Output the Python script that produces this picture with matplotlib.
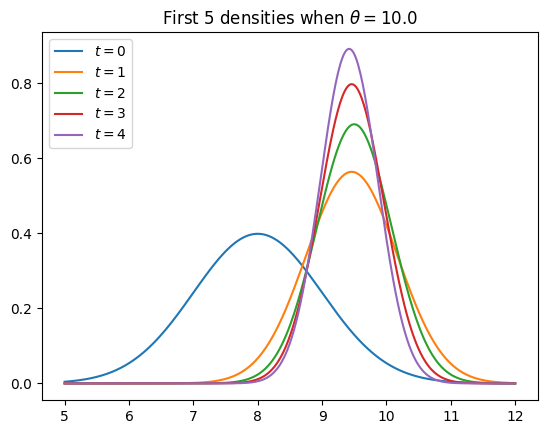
import numpy as np
import matplotlib.pyplot as plt

# posterior mean and variance at each step t
steps = [0, 1, 2, 3, 4]
means = [8.0, 9.46, 9.50, 9.46, 9.42]
variances = [1.0, 1 / 2, 1 / 3, 1 / 4, 1 / 5]
theta = 10.0

x_grid = np.linspace(5, 12, 400)


def normal_pdf(x, mu, var):
    return np.exp(-(x - mu) ** 2 / (2 * var)) / np.sqrt(2 * np.pi * var)


fig, ax = plt.subplots(figsize=(5.47, 4.34), dpi=100)
fig.subplots_adjust(left=0.077, right=0.983, top=0.926, bottom=0.078)

for t, mu, var in zip(steps, means, variances):
    ax.plot(x_grid, normal_pdf(x_grid, mu, var), label=r"$t = {}$".format(t))

ax.set_title(r"First 5 densities when $\theta = {}$".format(theta))
ax.legend(loc="upper left")

fig.savefig("out.png")
